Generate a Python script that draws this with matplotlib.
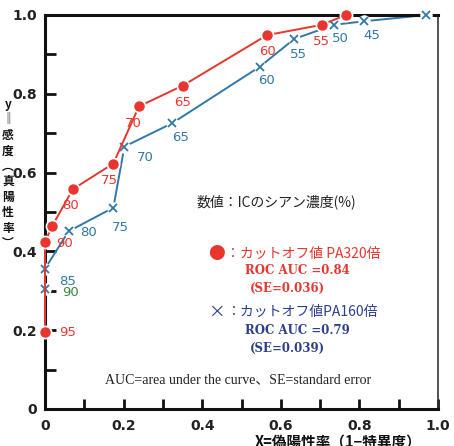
import matplotlib
matplotlib.use("Agg")
import matplotlib.pyplot as plt

plt.rcParams['font.family'] = ['DejaVu Sans', 'Noto Sans CJK JP']

# Data
red_x = [0.0, 0.0, 0.018, 0.071, 0.174, 0.239, 0.351, 0.565, 0.704, 0.766]
red_y = [0.195, 0.424, 0.464, 0.558, 0.623, 0.768, 0.821, 0.949, 0.975, 1.0]
red_lab = ["95", "90", "", "80", "75", "70", "65", "60", "55", ""]

blue_x = [0.0, 0.0, 0.06, 0.174, 0.202, 0.323, 0.547, 0.634, 0.735, 0.811, 0.970]
blue_y = [0.305, 0.356, 0.451, 0.511, 0.666, 0.725, 0.869, 0.939, 0.975, 0.984, 1.0]
blue_lab = ["90", "85", "80", "75", "70", "65", "60", "55", "50", "45", ""]

RED = "#e8352e"
BLUE = "#2f78a8"
NAVY = "#2b3f8c"

fig = plt.figure(figsize=(4.54, 4.46), dpi=100)
ax = fig.add_axes([45/454, 1-409/446, 393/454, 394/446])
ax.set_xlim(0, 1)
ax.set_ylim(0, 1)

ax.plot(blue_x, blue_y, color=BLUE, lw=1.4, zorder=2, clip_on=False)
ax.plot(blue_x, blue_y, ls='none', marker='o', ms=9, mfc='white', mec='none', zorder=3, clip_on=False)
ax.plot(blue_x, blue_y, ls='none', marker='x', ms=6, mew=1.3, color=BLUE, zorder=4, clip_on=False)

ax.plot(red_x, red_y, color=RED, lw=1.4, zorder=5, clip_on=False)
ax.plot(red_x, red_y, ls='none', marker='o', ms=10, mfc='white', mec='none', zorder=6, clip_on=False)
ax.plot(red_x, red_y, ls='none', marker='o', ms=6.5, color=RED, zorder=7, clip_on=False)

red_off = [(10, 0), (8, -1), (0, 0), (-2, -12), (-3, -12), (-4, -12), (0, -12), (0, -12), (0, -12), (0, 0)]
blue_off = [(12, -3), (10, -9), (8, -1), (5, -14), (9, -8), (6, -10), (5, -10), (3, -11), (5, -10), (6, -10), (0, 0)]
for x, y, t, (dx, dy) in zip(red_x, red_y, red_lab, red_off):
    if t:
        ax.annotate(t, (x, y), xytext=(dx, dy), textcoords='offset points',
                    color=RED, fontsize=9.5, ha='left' if dx > 5 else 'center', va='center', zorder=8)
for i, (x, y, t, (dx, dy)) in enumerate(zip(blue_x, blue_y, blue_lab, blue_off)):
    if t:
        c = "#3a8a3a" if i == 0 else BLUE
        ax.annotate(t, (x, y), xytext=(dx, dy), textcoords='offset points',
                    color=c, fontsize=9.5, ha='left' if dx > 7 else 'center', va='center', zorder=8)

# spines and ticks
for s in ['left', 'top', 'bottom']:
    ax.spines[s].set_linewidth(2.2)
    ax.spines[s].set_color('#111111')
ax.spines['right'].set_linewidth(1.2)
ax.spines['right'].set_color('#333333')

ticks = [0, 0.2, 0.4, 0.6, 0.8, 1.0]
labels = ["0", "0.2", "0.4", "0.6", "0.8", "1.0"]
minor = [0.1, 0.3, 0.5, 0.7, 0.9]
ax.set_xticks(ticks)
ax.set_xticklabels(labels)
ax.set_yticks(ticks)
ax.set_yticklabels(labels)
ax.set_xticks(minor, minor=True)
ax.set_yticks(minor, minor=True)
ax.tick_params(axis='both', which='both', direction='in', width=2, color='#111111',
               labelsize=10, labelcolor='#222222')
ax.tick_params(axis='x', which='both', length=7, pad=7, top=False)
ax.tick_params(axis='y', which='both', length=8, pad=6, right=False)
ax.xaxis.get_major_ticks()[0].tick1line.set_visible(False)
ax.yaxis.get_major_ticks()[-1].tick1line.set_visible(False)
for lab in ax.get_xticklabels() + ax.get_yticklabels():
    lab.set_fontweight('bold')

# annotation texts
jp = ['Noto Sans CJK JP', 'DejaVu Sans']
fig.text(197/454, 1-202/446, "数値：ICのシアン濃度(%)", family=jp, fontsize=10, color='#222222', va='center')
fig.text(216/454, 1-254/446, "●", family=jp, fontsize=12, color=RED, ha='center', va='center')
fig.text(226/454, 1-254/446, "：カットオフ値 PA320倍", family=jp, fontsize=10, color=RED, va='center')
fig.text(245/454, 1-271/446, "ROC AUC =0.84", family='DejaVu Serif', fontsize=8.5, color=RED, va='center', fontweight='bold')
fig.text(250/454, 1-288/446, "(SE=0.036)", family='DejaVu Serif', fontsize=8.5, color=RED, va='center', fontweight='bold')
fig.text(216/454, 1-312/446, "×", family=jp, fontsize=12, color=NAVY, ha='center', va='center')
fig.text(226/454, 1-312/446, "：カットオフ値PA160倍", family=jp, fontsize=10, color=NAVY, va='center')
fig.text(245/454, 1-330/446, "ROC AUC =0.79", family='DejaVu Serif', fontsize=8.5, color=NAVY, va='center', fontweight='bold')
fig.text(250/454, 1-348/446, "(SE=0.039)", family='DejaVu Serif', fontsize=8.5, color=NAVY, va='center', fontweight='bold')
fig.text(105/454, 1-380/446, "AUC=area under the curve、SE=standard error", family=['Liberation Serif', 'Noto Sans CJK JP'],
         fontsize=10, color='#222222', va='center')

# axis labels
fig.text(338/454, 1-434/446, "X=偽陽性率（1−特異度）", family=jp, fontsize=10.5, fontweight='bold',
         color='#111111', ha='center', va='top')
ylab = "\n".join(["y", "‖", "感", "度", "︵", "真", "陽", "性", "率", "︶"])
fig.text(8/454, 1-174/446, ylab, family=jp, fontsize=8.5, fontweight='bold', color='#111111',
         ha='center', va='center', linespacing=1.25)

fig.savefig("out.png", dpi=100)
